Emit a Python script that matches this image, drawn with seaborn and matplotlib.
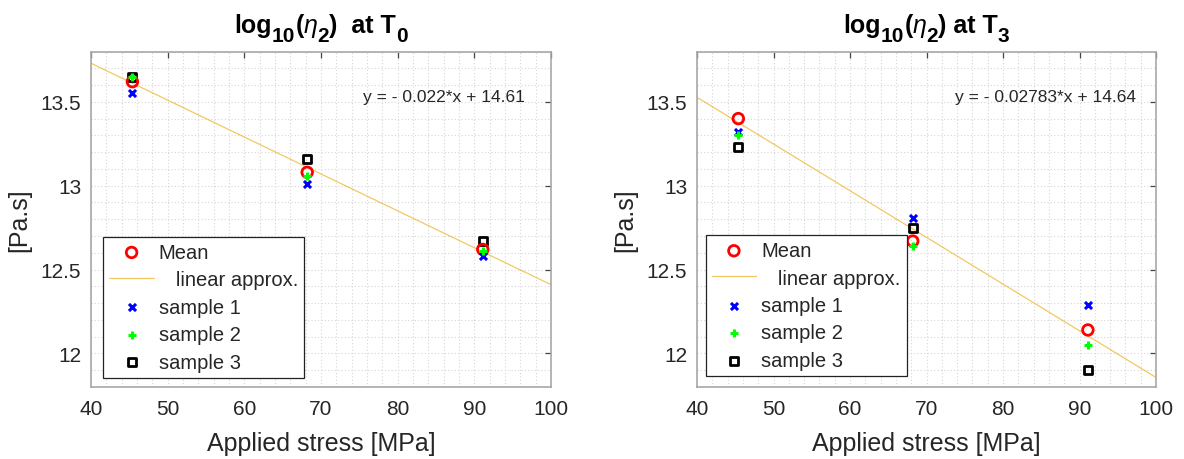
import numpy as np
import pandas as pd
import matplotlib
matplotlib.use("Agg")
import matplotlib.pyplot as plt
from matplotlib.ticker import MultipleLocator
from matplotlib.transforms import IdentityTransform
import seaborn as sns

# ---------------- data ----------------
stress = [45.4, 68.2, 91.1]

t0_mean = [13.62, 13.08, 12.62]
t0_s1 = [13.55, 13.01, 12.58]
t0_s2 = [13.65, 13.06, 12.61]
t0_s3 = [13.65, 13.16, 12.67]
t0_slope, t0_intercept = -0.022, 14.61
t0_eq = "y = - 0.022*x + 14.61"

t3_mean = [13.40, 12.67, 12.14]
t3_s1 = [13.32, 12.81, 12.29]
t3_s2 = [13.30, 12.64, 12.05]
t3_s3 = [13.23, 12.75, 11.90]
t3_slope, t3_intercept = -0.02783, 14.64
t3_eq = "y = - 0.02783*x + 14.64"

# title pieces: (text, is_subscript, style)
title_t0 = [("log", False, "normal"), ("10", True, "normal"), ("(", False, "normal"),
            ("\u03b7", False, "italic"), ("2", True, "normal"), (")  at T", False, "normal"),
            ("0", True, "normal")]
title_t3 = [("log", False, "normal"), ("10", True, "normal"), ("(", False, "normal"),
            ("\u03b7", False, "italic"), ("2", True, "normal"), (") at T", False, "normal"),
            ("3", True, "normal")]
xlabel = "Applied stress [MPa]"
ylabel = "[Pa.s]"
xticks = [40, 50, 60, 70, 80, 90, 100]
yticks = [12, 12.5, 13, 13.5]
ytick_labels = ["12", "12.5", "13", "13.5"]
legend_labels = ["Mean", "   linear approx.", "sample 1", "sample 2", "sample 3"]

# ---------------- style ----------------
sns.set_theme(style="white")
plt.rcParams["font.family"] = ["Liberation Sans", "DejaVu Sans"]

TXT = "#262626"
W, H = 1184, 460
fig = plt.figure(figsize=(W / 100, H / 100), dpi=100)
ax_l = fig.add_axes([91 / W, 72 / H, 460 / W, 335.5 / H])
ax_r = fig.add_axes([697 / W, 72 / H, 459 / W, 335.5 / H])
renderer = fig.canvas.get_renderer()


def draw_title(pieces, center_x, baseline_y, size=18, sub_size=15, sub_drop=9):
    """Chain bold text pieces (pixel coordinates, origin bottom-left)."""
    texts = []
    x = 0.0
    for s, sub, style in pieces:
        fs = sub_size if sub else size
        y = baseline_y - (sub_drop if sub else 0)
        weight = "normal" if style == "italic" else "bold"
        t = fig.text(x, y, s, fontsize=fs, fontweight=weight, fontstyle=style,
                     color="black", transform=IdentityTransform(), va="baseline", ha="left")
        w = t.get_window_extent(renderer).width
        texts.append(t)
        x += w
    shift = center_x - x / 2
    for t in texts:
        px, py = t.get_position()
        t.set_position((px + shift, py))


panels = [
    (ax_l, t0_mean, t0_s1, t0_s2, t0_s3, t0_slope, t0_intercept, t0_eq, title_t0, (0.027, 0.028), 75.5),
    (ax_r, t3_mean, t3_s1, t3_s2, t3_s3, t3_slope, t3_intercept, t3_eq, title_t3, (0.019, 0.033), 73.7),
]

for ax, mean, s1, s2, s3, slope, icpt, eq, title, legpos, eqx in panels:
    df = pd.DataFrame({"stress": stress, "mean": mean, "s1": s1, "s2": s2, "s3": s3})
    sns.scatterplot(data=df, x="stress", y="mean", ax=ax, marker="o", s=58,
                    facecolors="none", edgecolor="#ff0000", linewidth=2.0,
                    label=legend_labels[0], zorder=4)
    ax.axline((0, icpt), slope=slope, color="#EDB120", lw=0.9, alpha=0.7,
              label=legend_labels[1], zorder=2)
    sns.scatterplot(data=df, x="stress", y="s1", ax=ax, marker="x", s=26,
                    color="#0000ff", linewidth=2.2, label=legend_labels[2], zorder=5)
    sns.scatterplot(data=df, x="stress", y="s2", ax=ax, marker="+", s=40,
                    color="#00ff00", linewidth=2.2, label=legend_labels[3], zorder=5)
    sns.scatterplot(data=df, x="stress", y="s3", ax=ax, marker="s", s=32,
                    facecolors="none", edgecolor="#000000", linewidth=2.0,
                    label=legend_labels[4], zorder=3)

    ax.set_xlim(40, 100)
    ax.set_ylim(11.8, 13.8)
    ax.set_xticks(xticks)
    ax.set_yticks(yticks)
    ax.set_yticklabels(ytick_labels)
    ax.xaxis.set_minor_locator(MultipleLocator(2))
    ax.yaxis.set_minor_locator(MultipleLocator(0.1))
    ax.grid(True, which="both", linestyle=(0, (1, 2)), color="#d6d6d6", lw=0.8)
    ax.set_axisbelow(True)
    ax.tick_params(which="major", direction="in", length=4, width=0.9, color="#444444",
                   top=True, right=True, labelsize=15, labelcolor=TXT)
    ax.tick_params(axis="x", which="major", pad=9)
    ax.tick_params(axis="y", which="major", pad=7)
    ax.tick_params(which="minor", length=0, top=True, right=True)
    for sp in ax.spines.values():
        sp.set_color("#a8a8a8")
        sp.set_linewidth(1.2)

    ax.set_xlabel(xlabel, fontsize=18, color=TXT, labelpad=9)
    ax.set_ylabel(ylabel, fontsize=18, color=TXT, labelpad=7)
    ax.text(eqx, 13.53, eq, fontsize=12.5, color=TXT, va="center", ha="left")

    leg = ax.legend(loc="lower left", bbox_to_anchor=legpos, borderaxespad=0,
                    fontsize=14.5, frameon=True, fancybox=False, framealpha=1,
                    edgecolor="#222222", handlelength=2.2, handletextpad=0.25,
                    labelspacing=0.42, borderpad=0.3)
    leg.get_frame().set_linewidth(0.9)
    for t in leg.get_texts():
        t.set_color(TXT)

    bb = ax.get_position()
    cx = (bb.x0 + bb.x1) / 2 * W
    draw_title(title, cx, H - 33)

fig.savefig("out.png", dpi=100, facecolor="white")
